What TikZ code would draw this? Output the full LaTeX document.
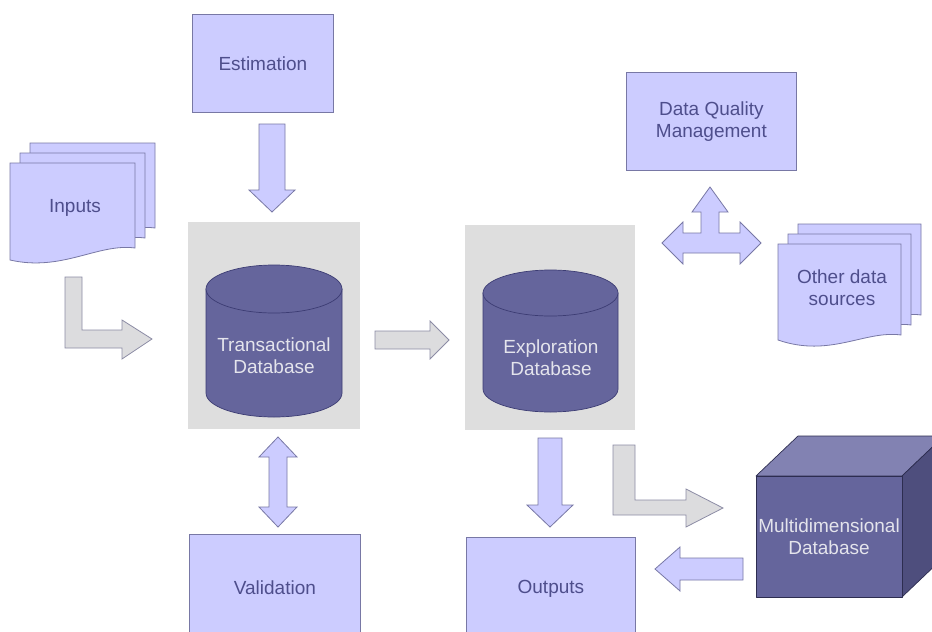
\documentclass[tikz,border=0pt]{standalone}
\usepackage{fontspec}
\setmainfont{Liberation Sans}
\definecolor{lightc}{RGB}{204,204,255}
\definecolor{bordc}{RGB}{120,120,165}
\definecolor{txtc}{RGB}{78,78,140}
\definecolor{darkc}{RGB}{101,101,156}
\definecolor{darkline}{RGB}{60,60,115}
\definecolor{darktxt}{RGB}{228,228,236}
\definecolor{grayc}{RGB}{222,222,222}
\definecolor{garrow}{RGB}{220,220,222}
\definecolor{garrowb}{RGB}{140,140,165}
\definecolor{cubetop}{RGB}{130,130,178}
\definecolor{cubeside}{RGB}{78,78,125}
\definecolor{cubeline}{RGB}{45,45,80}
\begin{document}
\begin{tikzpicture}[x=1pt,y=-1pt,
  every node/.style={font=\fontsize{19}{22}\selectfont, align=center},
  lbox/.style={draw=bordc, fill=lightc, line width=0.8pt, text=txtc, anchor=north west, inner sep=0pt},
  graybox/.style={fill=grayc, draw=none, anchor=north west, inner sep=0pt},
  cylbody/.style={fill=darkc, draw=darkline, line width=0.7pt},
  darklabel/.style={text=darktxt},
  larrow/.style={fill=lightc, draw=bordc, line width=0.8pt, line join=miter},
  garrowst/.style={fill=garrow, draw=garrowb, line width=0.8pt, line join=miter},
  page/.style={fill=lightc, draw=bordc, line width=0.8pt}
]
\useasboundingbox (0,0) rectangle (932,632);
\clip (0,0) rectangle (932,632);
\fill[white] (0,0) rectangle (932,632);

% ---------- boxes ----------
\node[lbox, minimum width=141pt, minimum height=98pt] (est) at (192,14) {Estimation};
\node[lbox, minimum width=170pt, minimum height=98pt] (dqm) at (626,72) {Data Quality\\Management};
\node[lbox, minimum width=171pt, minimum height=106pt] (val) at (189,534) {Validation};
\node[lbox, minimum width=169pt, minimum height=103pt] (out) at (466,537) {Outputs};

% ---------- gray panels ----------
\node[graybox, minimum width=172pt, minimum height=207pt] (tpanel) at (188,222) {};
\node[graybox, minimum width=170pt, minimum height=205pt] (epanel) at (465,225) {};

% ---------- cylinders ----------
\path[cylbody] (206,289) -- (206,393) arc[start angle=180, end angle=0, x radius=68, y radius=24] -- (342,289) -- cycle;
\path[cylbody] (274,289) ellipse[x radius=68, y radius=24];
\node[darklabel] (tdb) at (274,356) {Transactional\\Database};

\path[cylbody] (483,293) -- (483,389) arc[start angle=180, end angle=0, x radius=67.5, y radius=23] -- (618,293) -- cycle;
\path[cylbody] (550.5,293) ellipse[x radius=67.5, y radius=23];
\node[darklabel] (edb) at (551,358) {Exploration\\Database};

% ---------- cube ----------
\path[fill=cubetop, draw=cubeline, line width=0.7pt, line join=round] (756,476) -- (798,436) -- (944,436) -- (902,476) -- cycle;
\path[fill=cubeside, draw=cubeline, line width=0.7pt, line join=round] (902,476) -- (944,436) -- (944,557) -- (902,597) -- cycle;
\path[fill=darkc, draw=cubeline, line width=0.7pt, line join=round] (756,476) rectangle (902,597);
\node[darklabel] (mdb) at (829,537) {Multidimensional\\Database};

% ---------- document stacks ----------
\foreach \dx/\dy in {20/-20, 10/-10, 0/0} {
  \path[page, shift={(\dx,\dy)}] (10,163) -- (135,163) -- (135,248)
     .. controls (98,243) and (62,272) .. (10,260) -- cycle;
}
\node[text=txtc] (inp) at (75,208) {Inputs};

\foreach \dx/\dy in {20/-20, 10/-10, 0/0} {
  \path[page, shift={(\dx,\dy)}] (778,244) -- (901,244) -- (901,335)
     .. controls (865,330) and (830,358) .. (778,340) -- cycle;
}
\node[text=txtc] (ods) at (842,288) {Other data\\sources};

% ---------- block arrows ----------
% Estimation -> Transactional
\path[larrow] (259,124) -- (285,124) -- (285,190) -- (295,190) -- (272,212) -- (249,190) -- (259,190) -- cycle;
% Transactional <-> Validation
\path[larrow] (278,437) -- (297,457) -- (287,457) -- (287,507) -- (297,507) -- (278,527) -- (259,507) -- (269,507) -- (269,457) -- (259,457) -- cycle;
% Transactional -> Exploration (gray)
\path[garrowst] (375,331) -- (430,331) -- (430,321) -- (449,340) -- (430,359) -- (430,349) -- (375,349) -- cycle;
% Inputs -> Transactional (gray L)
\path[garrowst] (65,277) -- (82,277) -- (82,330) -- (122,330) -- (122,320) -- (152,339) -- (122,359) -- (122,348) -- (65,348) -- cycle;
% Exploration -> Outputs
\path[larrow] (538,438) -- (562,438) -- (562,505) -- (573,505) -- (550,527) -- (527,505) -- (538,505) -- cycle;
% Exploration -> Multidimensional (gray L)
\path[garrowst] (613,445) -- (635,445) -- (635,500) -- (686,500) -- (686,489) -- (723,508) -- (686,527) -- (686,515) -- (613,515) -- cycle;
% Multidimensional -> Outputs
\path[larrow] (743,558) -- (680,558) -- (680,547) -- (655,569) -- (680,591) -- (680,580) -- (743,580) -- cycle;
% three-way arrow (Data Quality / Exploration / Other data sources)
\path[larrow] (710,187) -- (728,212) -- (719,212) -- (719,233) -- (740,233) -- (740,222) -- (761,243) -- (740,264) -- (740,253)
   -- (683,253) -- (683,264) -- (662,243) -- (683,222) -- (683,233) -- (701,233) -- (701,212) -- (692,212) -- cycle;
\end{tikzpicture}
\end{document}
